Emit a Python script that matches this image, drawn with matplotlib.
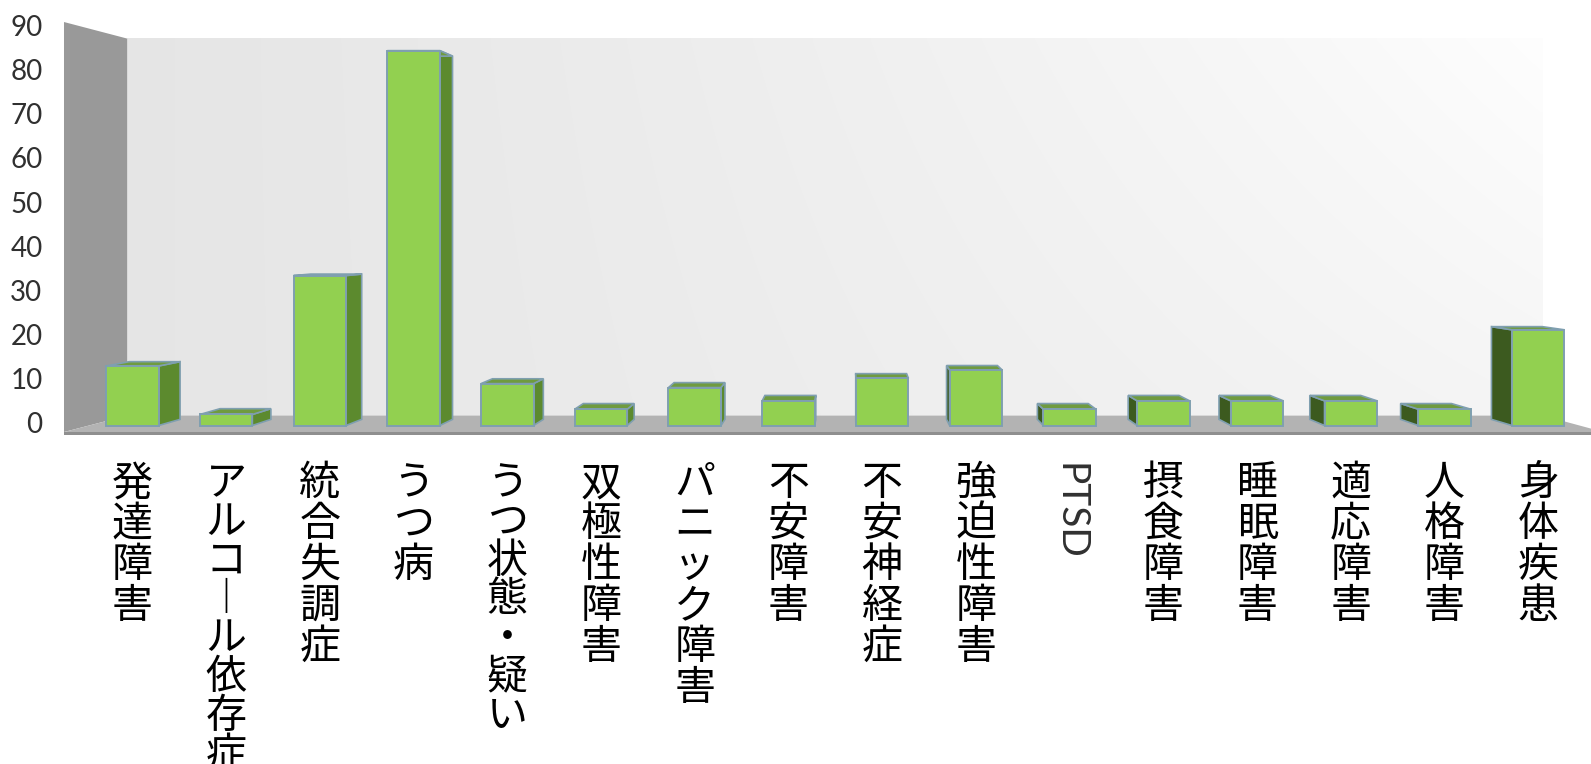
import numpy as np
import matplotlib
matplotlib.use('Agg')
import matplotlib.pyplot as plt
from matplotlib.patches import Polygon
from matplotlib import transforms

# ---------------- data ----------------
categories = ['発達障害', 'アルコール依存症', '統合失調症', 'うつ病', 'うつ状態・疑い',
              '双極性障害', 'パニック障害', '不安障害', '不安神経症', '強迫性障害',
              'PTSD', '摂食障害', '睡眠障害', '適応障害', '人格障害', '身体疾患']
values = [13.5, 2.5, 34, 85, 9.5, 3.7, 8.6, 5.6, 10.7, 12.6,
          3.7, 5.6, 5.6, 5.6, 3.7, 21.7]
yticks = [0, 10, 20, 30, 40, 50, 60, 70, 80, 90]
ymax = 90

# ---------------- style / geometry ----------------
W, H = 1591, 764
fig = plt.figure(figsize=(W / 100, H / 100), dpi=100)
ax = fig.add_axes([48 / W, 0, 1 - 48 / W, 1])

PX0, PXS = 132.4, 93.72      # pixel of category 0, pixels per category
PY0, PYS = 425.5, 4.41       # pixel (from top) of value 0, pixels per unit
ax.set_xlim((48 - PX0) / PXS, (W - PX0) / PXS)
ax.set_ylim((PY0 - H) / PYS, PY0 / PYS)

VX = (850 - PX0) / PXS       # vanishing point (data units)
VY = (PY0 - 228) / PYS
SF, SB = 1.033, 0.950        # floor/wall front & back scale
SBAR = 0.969                 # bar back scale
X0 = (89.1 - PX0) / PXS
X1 = (1579.5 - PX0) / PXS


def proj(x, v, s):
    return (VX + (x - VX) * s, VY + (v - VY) * s)


# back wall (gradient)
bx0, by0 = proj(X0, 0, SB)
bx1, by1 = proj(X1, ymax, SB)
nx, ny = 300, 100
xf = np.linspace(0, 1, nx)[None, :]
yf = np.linspace(0, 1, ny)[:, None]
g = 0.900 + 0.060 * xf + 0.035 * xf ** 2 * yf
g = np.clip(g, 0, 1)
img = np.dstack([g, g, g])
ax.imshow(img, extent=[bx0, bx1, by0, by1], origin='lower', aspect='auto',
          zorder=0, interpolation='bilinear')

# left wall
lw_pts = [proj(X0, 0, SF), proj(X0, ymax, SF), proj(X0, ymax, SB), proj(X0, 0, SB)]
ax.add_patch(Polygon(lw_pts, closed=True, facecolor='#999999', edgecolor='none', zorder=1))

# floor
fl_pts = [proj(X0, 0, SF), proj(X1, 0, SF), proj(X1, 0, SB), proj(X0, 0, SB)]
ax.add_patch(Polygon(fl_pts, closed=True, facecolor='#b3b3b3', edgecolor='none', zorder=1))
edge_pts = [proj(X0, 0, SF), proj(X1, 0, SF), proj(X1, -0.7, SF), proj(X0, -0.7, SF)]
ax.add_patch(Polygon(edge_pts, closed=True, facecolor='#8f8f8f', edgecolor='none', zorder=1))

# bars
bw = 0.56
hw = bw / 2
front_c = '#92d050'
top_c = '#6f9b3f'
right_c = '#5c8a2e'
left_c = '#3c5a1f'
edge_c = '#7f9fb0'
xs = np.arange(len(categories))
for i, h in zip(xs, values):
    top = [proj(i - hw, h, 1), proj(i + hw, h, 1), proj(i + hw, h, SBAR), proj(i - hw, h, SBAR)]
    if i + hw < VX:
        side = [proj(i + hw, 0, 1), proj(i + hw, h, 1), proj(i + hw, h, SBAR), proj(i + hw, 0, SBAR)]
        sc = right_c
    else:
        side = [proj(i - hw, 0, 1), proj(i - hw, h, 1), proj(i - hw, h, SBAR), proj(i - hw, 0, SBAR)]
        sc = left_c
    ax.add_patch(Polygon(side, closed=True, facecolor=sc, edgecolor=edge_c, lw=1.2, zorder=3))
    ax.add_patch(Polygon(top, closed=True, facecolor=top_c, edgecolor=edge_c, lw=1.2, zorder=3))

ax.bar(xs, values, width=bw, color=front_c, edgecolor=edge_c, linewidth=1.4, zorder=4)

# axes cosmetics
for sp in ax.spines.values():
    sp.set_visible(False)
ax.patch.set_visible(False)
ax.spines['bottom'].set_position(('data', (PY0 - 463) / PYS))

ax.set_yticks(yticks)
ax.set_yticklabels([str(t) for t in yticks], family=['Lato', 'DejaVu Sans'],
                   fontsize=20, color='#303030')
ax.tick_params(axis='y', length=0, pad=4)

xlabels = []
for c in categories:
    if c == 'PTSD':
        xlabels.append(c)
    else:
        xlabels.append('\n'.join(c.replace('ー', '︱')))
ax.set_xticks(xs)
ax.set_xticklabels(xlabels, family=['Noto Sans CJK JP', 'DejaVu Sans'],
                   fontsize=29.5, color='black', linespacing=1.0, va='top')
ax.tick_params(axis='x', length=0, pad=0)
for lab in ax.get_xticklabels():
    t = lab.get_text()
    if t == 'PTSD':
        lab.set_rotation(-90)
        lab.set_family(['Lato', 'DejaVu Sans'])
        lab.set_fontsize(28)
        lab.set_color('#303030')
    elif t.count('\n') >= 6:
        lab.set_linespacing(0.93)

off = transforms.ScaledTranslation(0, 3 / 100, fig.dpi_scale_trans)
for lab in ax.get_yticklabels():
    lab.set_transform(lab.get_transform() + off)

fig.savefig('out.png', dpi=100, facecolor='white')
